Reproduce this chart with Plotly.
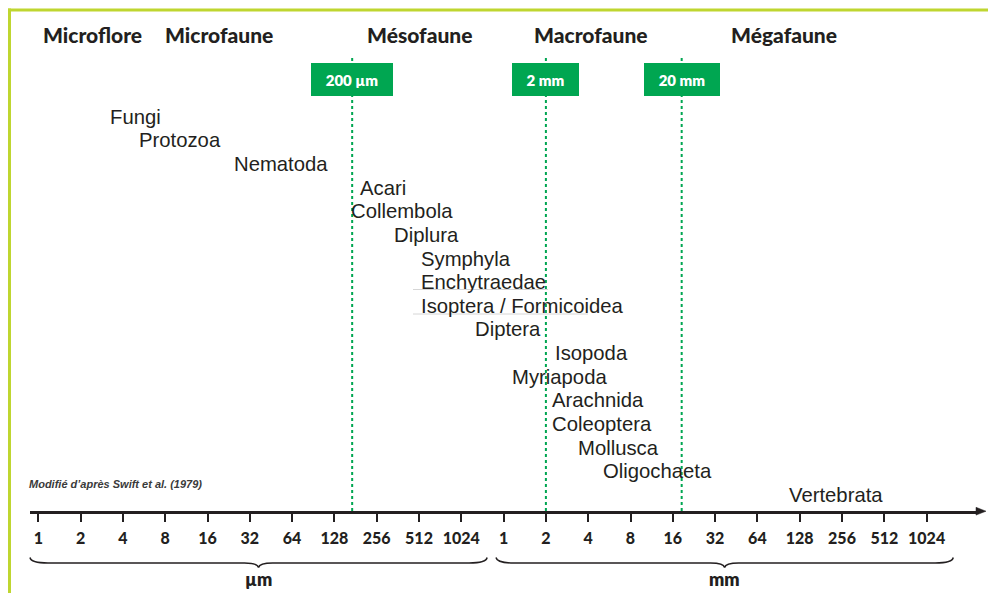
import plotly.graph_objects as go

# ---------------- data ----------------
taxa = ["Fungi", "Protozoa", "Nematoda", "Acari", "Collembola", "Diplura",
        "Symphyla", "Enchytraedae", "Isoptera / Formicoidea", "Diptera",
        "Isopoda", "Myriapoda", "Arachnida", "Coleoptera", "Mollusca",
        "Oligochaeta", "Vertebrata"]
# left edge of each taxon label on the log2 size scale (0 = 1 µm, 11 = 1 mm)
taxa_log2 = [1.66, 2.36, 4.61, 7.59, 7.37, 8.39, 9.02, 9.02, 9.02, 10.30,
             12.19, 11.17, 12.12, 12.12, 12.73, 13.33, 17.72]
taxa_row = list(range(len(taxa)))

tick_pos = list(range(22))
tick_labels = ["1", "2", "4", "8", "16", "32", "64", "128", "256", "512", "1024"] * 2

groups = ["Microflore", "Microfaune", "Mésofaune", "Macrofaune", "Mégafaune"]
group_log2 = [1.28, 4.26, 9.01, 13.06, 17.64]

limits = ["200 µm", "2 mm", "20 mm"]
limit_log2 = [7.42, 12.0, 15.21]
limit_box_w = [82, 67, 76]

units = ["µm", "mm"]
unit_span = [(-0.196, 10.61), (10.82, 21.63)]

note = "Modifié d’après Swift et al. (1979)"

# ---------------- layout geometry ----------------
W, H = 988, 593
L, R, T, B = 30, 10, 0, 82
PW, PH = W - L - R, H - T - B
X0, DX = 38.3, 42.3          # pixel of log2 = 0, pixels per doubling
ROW0, DROW = 116.7, 23.64     # pixel of row 0, pixels per row

def kx(k):       # log2 value -> pixel
    return X0 + DX * k

def ppx(px):     # pixel -> paper x
    return (px - L) / PW

def ppy(py):     # pixel -> paper y
    return (H - B - py) / PH

TXT = "#231f20"
GREEN = "#00a651"
BORDER = "#bfd630"
HEAD_FONT = "Lato"

fig = go.Figure()

# invisible trace to set up the axes
fig.add_trace(go.Scatter(x=taxa_log2, y=taxa_row, mode="markers",
                         marker=dict(opacity=0), hoverinfo="skip", showlegend=False))

annotations = []
for name, k, r in zip(taxa, taxa_log2, taxa_row):
    annotations.append(dict(x=k, y=r, xref="x", yref="y", text=name, showarrow=False,
                            xanchor="left", yanchor="middle", borderpad=0,
                            font=dict(family="Liberation Sans, Arial", size=20.3, color=TXT)))

for g, k in zip(groups, group_log2):
    annotations.append(dict(x=k, y=ppy(34), xref="x", yref="paper", text=g, showarrow=False,
                            xanchor="center", yanchor="middle",
                            font=dict(family=HEAD_FONT, size=21, color=TXT, weight=900)))

shapes = []
for lab, k, bw in zip(limits, limit_log2, limit_box_w):
    shapes.append(dict(type="line", xref="x", yref="paper", x0=k, x1=k,
                       y0=ppy(511), y1=ppy(55),
                       line=dict(color=GREEN, width=2, dash="dot")))
    annotations.append(dict(x=k, y=ppy(79.5), xref="x", yref="paper", text=lab,
                            showarrow=False, xanchor="center", yanchor="middle",
                            width=bw, height=33, bgcolor=GREEN, borderpad=0, borderwidth=0,
                            font=dict(family=HEAD_FONT, size=15, color="white", weight=800)))

# braces and unit labels
def brace(x0, x1, ytop=557.5, ymid=563, ytip=567.5):
    xc = (x0 + x1) / 2
    pts = [
        f"M{ppx(x0)},{ppy(ytop)}",
        f"Q{ppx(x0 + 1)},{ppy(ymid)} {ppx(x0 + 18)},{ppy(ymid)}",
        f"L{ppx(xc - 14)},{ppy(ymid)}",
        f"Q{ppx(xc - 1)},{ppy(ymid)} {ppx(xc)},{ppy(ytip)}",
        f"Q{ppx(xc + 1)},{ppy(ymid)} {ppx(xc + 14)},{ppy(ymid)}",
        f"L{ppx(x1 - 18)},{ppy(ymid)}",
        f"Q{ppx(x1 - 1)},{ppy(ymid)} {ppx(x1)},{ppy(ytop)}",
    ]
    return " ".join(pts)

for u, (a, b) in zip(units, unit_span):
    x0, x1 = kx(a), kx(b)
    shapes.append(dict(type="path", xref="paper", yref="paper", path=brace(x0, x1),
                       line=dict(color=TXT, width=1.5)))
    annotations.append(dict(x=ppx((x0 + x1) / 2), y=ppy(579), xref="paper", yref="paper",
                            text=u, showarrow=False, xanchor="center", yanchor="middle",
                            font=dict(family=HEAD_FONT, size=18, color=TXT, weight=800)))

# note
annotations.append(dict(x=ppx(28), y=ppy(483.5), xref="paper", yref="paper", text=note,
                        showarrow=False, xanchor="left", yanchor="middle", borderpad=0,
                        font=dict(family="Liberation Sans Narrow, Liberation Sans", size=11,
                                  color="#3a3a3a", style="italic", weight="bold")))

# axis arrow head
shapes.append(dict(type="path", xref="paper", yref="paper",
                   path=f"M{ppx(976)},{ppy(507.3)} L{ppx(986)},{ppy(511.2)} L{ppx(976)},{ppy(515.1)} Z",
                   fillcolor=TXT, line=dict(color=TXT, width=0.5)))

# faint guide lines under two labels
for y, xa, xb in [(289.5, 413, 548), (314, 413, 588)]:
    shapes.append(dict(type="line", xref="paper", yref="paper", x0=ppx(xa), x1=ppx(xb),
                       y0=ppy(y), y1=ppy(y), line=dict(color="#d6d6d6", width=1)))

# green frame
shapes.append(dict(type="line", xref="paper", yref="paper", x0=ppx(8), x1=ppx(990),
                   y0=ppy(10), y1=ppy(10), line=dict(color=BORDER, width=3)))
shapes.append(dict(type="line", xref="paper", yref="paper", x0=ppx(9.5), x1=ppx(9.5),
                   y0=ppy(8.5), y1=ppy(600), line=dict(color=BORDER, width=3)))

fig.update_layout(
    width=W, height=H, margin=dict(l=L, r=R, t=T, b=B, pad=0),
    paper_bgcolor="white", plot_bgcolor="white",
    annotations=annotations, shapes=shapes, showlegend=False,
    xaxis=dict(range=[(L - X0) / DX, (W - R - X0) / DX], tickvals=tick_pos,
               ticktext=tick_labels, ticks="outside", ticklen=8, tickwidth=1.5,
               tickcolor=TXT, showline=True, linecolor=TXT, linewidth=2.5,
               showgrid=False, zeroline=False, ticklabelstandoff=3,
               tickfont=dict(family=HEAD_FONT, size=16, color=TXT, weight=900),
               fixedrange=True),
    yaxis=dict(range=[(H - B - ROW0) / DROW, (T - ROW0) / DROW], visible=False,
               showgrid=False, zeroline=False, fixedrange=True),
)

fig.write_html("out.html", config={"displayModeBar": False},
               post_script="document.body.style.margin='0';document.body.style.overflow='hidden';")
